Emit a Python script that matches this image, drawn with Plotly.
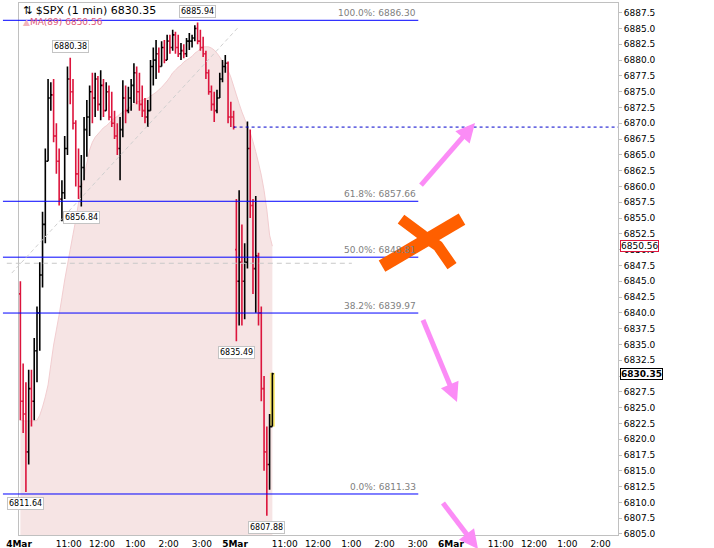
import math
import plotly.graph_objects as go

# ---------------- data (5-minute bars) ----------------
BAR_MIN = 5          # minutes per bar
SESSION_MIN = 390    # 9:30 - 16:00

day1_open = [6843.0, 6826.0, 6824.0, 6818.0, 6828.0, 6826.0, 6834.0, 6840.0, 6846.0, 6854.0,
             6864.0, 6874.0, 6874.5, 6868.0, 6864.0, 6858.0, 6859.0, 6866.0, 6877.0, 6875.0,
             6870.0, 6862.0, 6860.0, 6863.0, 6869.0, 6871.0, 6875.0, 6874.0, 6877.0, 6873.0,
             6876.0, 6872.0, 6875.0, 6871.0, 6870.0, 6868.0, 6866.0, 6869.0, 6874.0, 6872.0,
             6874.0, 6876.0, 6878.0, 6875.0, 6873.0, 6872.0, 6871.0, 6872.0, 6879.0, 6880.0,
             6881.0, 6879.0, 6882.0, 6880.0, 6883.0, 6882.0, 6884.0, 6882.0, 6881.0, 6881.5,
             6881.0, 6883.0, 6883.0, 6883.5, 6885.0, 6883.0, 6882.0, 6881.0, 6878.0, 6875.0,
             6873.0, 6872.0, 6874.0, 6877.0, 6879.0, 6879.5, 6871.0, 6871.0]
day1_high = [6845.0, 6832.0, 6829.0, 6831.0, 6831.0, 6836.0, 6841.0, 6848.0, 6856.0, 6866.0,
             6877.0, 6876.5, 6877.0, 6870.0, 6866.0, 6861.0, 6868.0, 6879.0, 6880.38, 6877.0,
             6870.5, 6866.0, 6865.0, 6871.0, 6873.7, 6876.0, 6878.0, 6878.0, 6877.5, 6878.4,
             6877.0, 6876.5, 6876.0, 6875.0, 6872.0, 6870.0, 6871.0, 6876.8, 6876.0, 6875.8,
             6877.0, 6879.5, 6879.0, 6878.0, 6876.0, 6874.0, 6873.7, 6880.0, 6882.0, 6883.2,
             6882.0, 6883.0, 6883.2, 6884.0, 6884.0, 6884.8, 6884.5, 6884.0, 6882.7, 6882.5,
             6883.5, 6884.3, 6884.0, 6885.5, 6885.94, 6884.8, 6883.7, 6881.5, 6878.5, 6876.0,
             6875.0, 6875.3, 6878.0, 6880.0, 6880.8, 6879.8, 6873.4, 6872.0]
day1_low = [6823.0, 6821.0, 6811.64, 6816.0, 6822.0, 6823.0, 6829.0, 6834.0, 6844.0, 6851.0,
            6864.0, 6872.0, 6867.0, 6862.0, 6857.0, 6854.5, 6858.0, 6865.0, 6873.0, 6869.0,
            6860.0, 6858.0, 6856.84, 6861.0, 6864.7, 6868.0, 6870.0, 6871.0, 6872.0, 6870.5,
            6871.0, 6872.0, 6870.5, 6869.4, 6867.5, 6865.0, 6861.0, 6867.8, 6870.0, 6871.6,
            6872.0, 6873.2, 6873.0, 6872.0, 6871.0, 6870.0, 6869.4, 6872.0, 6876.0, 6877.0,
            6878.0, 6879.0, 6879.5, 6880.0, 6881.0, 6881.5, 6881.0, 6880.5, 6880.0, 6880.3,
            6880.5, 6881.6, 6882.0, 6883.0, 6882.5, 6881.5, 6880.5, 6877.0, 6874.5, 6872.0,
            6870.2, 6871.6, 6874.0, 6876.5, 6878.0, 6870.0, 6869.4, 6869.0]
day1_close = [6826.0, 6824.0, 6818.0, 6828.0, 6826.0, 6834.0, 6840.0, 6846.0, 6854.0, 6864.0,
              6874.0, 6874.5, 6868.0, 6864.0, 6858.0, 6859.0, 6866.0, 6877.0, 6875.0, 6870.0,
              6862.0, 6860.0, 6863.0, 6869.0, 6871.0, 6875.0, 6874.0, 6877.0, 6873.0, 6876.0,
              6872.0, 6875.0, 6871.0, 6870.0, 6868.0, 6866.0, 6869.0, 6874.0, 6872.0, 6874.0,
              6876.0, 6878.0, 6875.0, 6873.0, 6872.0, 6871.0, 6872.0, 6879.0, 6880.0, 6881.0,
              6879.0, 6882.0, 6880.0, 6883.0, 6882.0, 6884.0, 6882.0, 6881.0, 6881.5, 6881.0,
              6883.0, 6883.0, 6883.5, 6885.0, 6883.0, 6882.0, 6881.0, 6878.0, 6875.0, 6873.0,
              6872.0, 6874.0, 6877.0, 6879.0, 6879.5, 6871.0, 6871.0, 6869.4]

day2_open = [6850.0, 6845.0, 6848.0, 6845.0, 6848.0, 6866.0, 6857.0, 6847.0, 6849.0, 6840.0,
             6828.0, 6818.0, 6816.0, 6822.0]
day2_high = [6858.0, 6859.4, 6854.0, 6851.0, 6870.3, 6869.0, 6858.0, 6858.5, 6849.5, 6841.0,
             6830.0, 6822.0, 6824.0, 6830.5]
day2_low = [6835.49, 6838.0, 6838.0, 6839.0, 6847.0, 6855.0, 6843.0, 6840.0, 6838.0, 6826.0,
            6815.0, 6807.88, 6812.0, 6822.0]
day2_close = [6845.0, 6848.0, 6845.0, 6848.0, 6866.0, 6857.0, 6847.0, 6849.0, 6840.0, 6828.0,
              6818.0, 6816.0, 6822.0, 6830.35]

ma89 = [6823.0, 6822.9, 6822.9, 6822.9, 6822.9, 6822.9, 6823.0, 6823.8, 6825.1, 6826.7,
        6828.6, 6831.8, 6834.9, 6837.3, 6839.7, 6842.4, 6845.2, 6847.6, 6850.0, 6852.4,
        6854.7, 6857.4, 6859.4, 6861.5, 6863.7, 6865.8, 6867.0, 6867.8, 6868.3, 6868.8,
        6869.3, 6869.6, 6870.0, 6870.5, 6870.8, 6871.1, 6871.5, 6871.8, 6872.1, 6872.4,
        6872.7, 6873.1, 6873.4, 6873.5, 6873.7, 6873.8, 6874.0, 6874.3, 6874.6, 6874.9,
        6875.3, 6875.7, 6876.2, 6876.7, 6877.3, 6878.0, 6878.4, 6878.9, 6879.2, 6879.7,
        6880.0, 6880.3, 6880.6, 6881.1, 6881.4, 6881.8, 6882.1, 6882.1, 6882.1, 6881.9,
        6881.6, 6881.1, 6880.5, 6879.8, 6879.2, 6878.4, 6877.3, 6875.9,
        6874.5, 6873.1, 6871.8, 6870.7, 6869.6, 6868.5, 6867.1, 6865.5, 6863.7, 6861.8,
        6859.4, 6856.3, 6852.3, 6850.56]

fib_pct = [100.0, 61.8, 50.0, 38.2, 0.0]
fib_val = [6886.30, 6857.66, 6848.81, 6839.97, 6811.33]

swing_high_idx = [18, 64]
swing_low_idx = [2, 22, 78, 89]

xtick_vals = [0, 90, 150, 210, 270, 330, 390, 480, 540, 600, 660, 720, 780, 870, 930, 990, 1050]
xtick_text = ["<b>4Mar</b>", "11:00", "12:00", "1:00", "2:00", "3:00",
              "<b>5Mar</b>", "11:00", "12:00", "1:00", "2:00", "3:00",
              "<b>6Mar</b>", "11:00", "12:00", "1:00", "2:00"]

# hand drawings (minutes, price)
trend_line = [(-13, 6846.3), (396, 6885.2)]
gray_level = dict(x0=-22, x1=601, y=6847.85)
fib_span = (-29, 721)
pink_arrows = [((725.9, 6860.23), (823.4, 6870.04)),
               ((729.5, 6838.86), (790.9, 6825.88)),
               ((765.6, 6809.90), (828.8, 6802.62))]
x_strokes = [[(655.5, 6847.39), (799.9, 6854.83)],
             [(689.8, 6854.83), (730.0, 6852.2), (756.6, 6850.6), (781.9, 6847.39)]]

# ---------------- layout constants ----------------
X_RANGE = [0, 1081.6]
Y_RANGE = [6804.84, 6889.04]
W, H = 714, 548
MARG = dict(l=19, r=96, t=3, b=13)
PW = W - MARG["l"] - MARG["r"]
PH = H - MARG["t"] - MARG["b"]

opens = day1_open + day2_open
highs = day1_high + day2_high
lows = day1_low + day2_low
closes = day1_close + day2_close
xs = [BAR_MIN * i + BAR_MIN / 2 for i in range(len(closes))]


def xpaper(m):
    return (m - X_RANGE[0]) / (X_RANGE[1] - X_RANGE[0])


def ypaper(v):
    return (v - Y_RANGE[0]) / (Y_RANGE[1] - Y_RANGE[0])


fig = go.Figure()

fig.add_trace(go.Ohlc(x=xs, open=opens, high=highs, low=lows, close=closes,
                      increasing=dict(line=dict(color="black", width=1.6)),
                      decreasing=dict(line=dict(color="#dc143c", width=1.6)),
                      tickwidth=0.5, hoverinfo="skip", showlegend=False))

shapes = []
annotations = []

# MA(89) shaded area (below the bars)
ylo = Y_RANGE[0] - 1
ma_pts = " L ".join(f"{x},{v}" for x, v in zip(xs, ma89))
shapes.append(dict(type="path", xref="x", yref="y", layer="below",
                   path=f"M {xs[0]},{ylo} L {ma_pts} L {xs[-1]},{ylo} Z",
                   fillcolor="#f6e4e4", line=dict(width=0)))
shapes.append(dict(type="path", xref="x", yref="y", layer="below",
                   path=f"M {ma_pts}", line=dict(color="#f2cdd0", width=1)))

# highlight of the last bar
lx = xs[-1]
shapes.append(dict(type="rect", xref="x", yref="y", layer="below",
                   x0=lx - 4.5, x1=lx + 4.5, y0=lows[-1], y1=highs[-1],
                   fillcolor="#fbea72", line=dict(width=0)))

# fibonacci levels
for p, v in zip(fib_pct, fib_val):
    shapes.append(dict(type="line", xref="paper", yref="y",
                       x0=xpaper(fib_span[0]), x1=xpaper(fib_span[1]), y0=v, y1=v,
                       line=dict(color="#0000ff", width=1)))
    annotations.append(dict(x=fib_span[1], y=v, xref="x", yref="y", text=f"{p:.1f}%: {v:.2f}",
                            showarrow=False, xanchor="right", yanchor="bottom", yshift=0,
                            font=dict(family="DejaVu Sans", size=9, color="#808080")))

# previous close dashed line
d1_last = len(day1_close) - 1
shapes.append(dict(type="line", xref="x", yref="y", x0=xs[d1_last], x1=X_RANGE[1],
                   y0=day1_close[-1], y1=day1_close[-1],
                   line=dict(color="#0000cc", width=1, dash="3px,3px")))

# gray dashed level and trend line
shapes.append(dict(type="line", xref="paper", yref="y", x0=xpaper(gray_level["x0"]),
                   x1=xpaper(gray_level["x1"]), y0=gray_level["y"], y1=gray_level["y"],
                   line=dict(color="#c8c8c8", width=1, dash="5px,4px")))
shapes.append(dict(type="line", xref="paper", yref="paper",
                   x0=xpaper(trend_line[0][0]), y0=ypaper(trend_line[0][1]),
                   x1=xpaper(trend_line[1][0]), y1=ypaper(trend_line[1][1]),
                   line=dict(color="#cfcfcf", width=1, dash="4px,3px")))


# pink arrows
def to_px(pt):
    return xpaper(pt[0]) * PW, ypaper(pt[1]) * PH


for tail, tip in pink_arrows:
    tx, ty = to_px(tail)
    hx, hy = to_px(tip)
    dx, dy = hx - tx, hy - ty
    L = math.hypot(dx, dy)
    ux, uy = dx / L, dy / L
    nx, ny = -uy, ux
    hl, hw = 19, 9.5
    bx, by = hx - ux * hl, hy - uy * hl
    shapes.append(dict(type="line", xref="paper", yref="paper",
                       x0=tx / PW, y0=ty / PH, x1=(bx + ux * 3) / PW, y1=(by + uy * 3) / PH,
                       line=dict(color="#fb8cf6", width=5)))
    pts = [(hx, hy), (bx + nx * hw, by + ny * hw), (bx - nx * hw, by - ny * hw)]
    path = "M " + " L ".join(f"{px / PW:.5f},{py / PH:.5f}" for px, py in pts) + " Z"
    shapes.append(dict(type="path", xref="paper", yref="paper", path=path,
                       fillcolor="#fb8cf6", line=dict(width=0)))

# orange X
for k, stroke in enumerate(x_strokes):
    path = "M " + " L ".join(f"{xpaper(m):.5f},{ypaper(v):.5f}" for m, v in stroke)
    shapes.append(dict(type="path", xref="paper", yref="paper", path=path,
                       line=dict(color="#ff5f00", width=13 if k == 0 else 11)))

# swing labels
box_font = dict(family="DejaVu Sans", size=8, color="black")
for i in swing_high_idx:
    annotations.append(dict(x=xs[i], y=highs[i], xref="x", yref="y", text=f"{highs[i]:.2f}",
                            showarrow=False, yanchor="bottom", yshift=5, font=box_font,
                            bgcolor="white", bordercolor="#c4c4c4", borderwidth=1, borderpad=1))
for i in swing_low_idx:
    annotations.append(dict(x=xs[i], y=lows[i], xref="x", yref="y", text=f"{lows[i]:.2f}",
                            showarrow=False, yanchor="top", yshift=-5, font=box_font,
                            bgcolor="white", bordercolor="#c4c4c4", borderwidth=1, borderpad=1))

# right axis value boxes
annotations.append(dict(x=1, y=ma89[-1], xref="paper", yref="y", text=f"{ma89[-1]:.2f}",
                        showarrow=False, xanchor="left", xshift=2,
                        font=dict(family="DejaVu Sans", size=9, color="black"),
                        bgcolor="white", bordercolor="#dc143c", borderwidth=1, borderpad=0))
annotations.append(dict(x=1, y=closes[-1], xref="paper", yref="y", text=f"<b>{closes[-1]:.2f}</b>",
                        showarrow=False, xanchor="left", xshift=2,
                        font=dict(family="DejaVu Sans", size=9, color="black"),
                        bgcolor="white", bordercolor="black", borderwidth=1, borderpad=0))

# header texts
annotations.append(dict(x=0.004, y=0.985, xref="paper", yref="paper",
                        text=f"⇅ $SPX (1 min) {closes[-1]:.2f}", showarrow=False,
                        xanchor="left", yanchor="middle",
                        font=dict(family="DejaVu Sans", size=11, color="black")))
annotations.append(dict(x=0.004, y=0.964, xref="paper", yref="paper",
                        text=f"<span style='color:#f3b4bc'>▲</span>MA(89) {ma89[-1]:.2f}",
                        showarrow=False, xanchor="left", yanchor="middle",
                        font=dict(family="DejaVu Sans", size=9, color="#e05a78")))

fig.update_layout(
    width=W, height=H, margin=MARG,
    paper_bgcolor="white", plot_bgcolor="rgba(0,0,0,0)",
    showlegend=False, hovermode=False,
    shapes=shapes, annotations=annotations,
    xaxis=dict(range=X_RANGE, tickmode="array", tickvals=xtick_vals, ticktext=xtick_text,
               showgrid=False, zeroline=False, showline=True, mirror=True,
               linecolor="#c0c0c0", linewidth=1, ticks="", automargin=False,
               rangeslider=dict(visible=False),
               tickfont=dict(family="DejaVu Sans", size=9, color="black")),
    yaxis=dict(range=Y_RANGE, side="right", tick0=6807.5, dtick=2.5, tickformat=".1f",
               showgrid=False, zeroline=False, showline=True, mirror=True,
               linecolor="#c0c0c0", linewidth=1, ticks="outside", ticklen=3,
               tickcolor="#c0c0c0", automargin=False,
               tickfont=dict(family="DejaVu Sans", size=9, color="black")),
)

fig.write_html("out.html", config={"displayModeBar": False},
               post_script="document.body.style.margin='0px';")
